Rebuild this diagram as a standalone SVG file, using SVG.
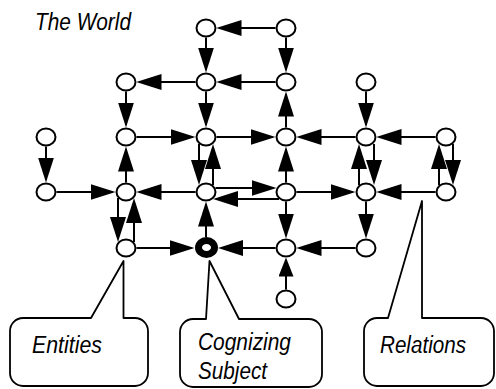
<svg xmlns="http://www.w3.org/2000/svg" width="496" height="389" viewBox="0 0 496 389">
<style>
.n{fill:#fff;stroke:#000;stroke-width:2}
.b{fill:#fff;stroke:#000;stroke-width:7}
.e line{stroke:#000;stroke-width:2;marker-end:url(#ah)}
.e line.s{marker-end:url(#ahs)}
.c{fill:#fff;stroke:#000;stroke-width:1.8;stroke-linejoin:round}
.t{font-family:"Liberation Sans",Arial,sans-serif;font-style:italic;font-size:23px;fill:#000}
</style>
<defs>
<marker id="ah" viewBox="0 0 25 16" refX="22" refY="8" markerWidth="25" markerHeight="16" markerUnits="userSpaceOnUse" orient="auto"><path d="M0,0 L25,8 L0,16 Z"/></marker>
<marker id="ahs" viewBox="0 0 19 15" refX="16" refY="7.5" markerWidth="19" markerHeight="15" markerUnits="userSpaceOnUse" orient="auto"><path d="M0,0 L19,7.5 L0,15 Z"/></marker>
</defs>
<rect width="496" height="389" fill="#fff"/>
<text class="t" x="35" y="30" font-size="24" textLength="96" lengthAdjust="spacingAndGlyphs">The World</text>
<g id="connectors" class="e">
<line x1="275.5" y1="28" x2="219.5" y2="28"/>
<line x1="206" y1="37.5" x2="206" y2="69.5"/>
<line x1="286" y1="37.5" x2="286" y2="69.5"/>
<line x1="195.5" y1="82" x2="139.5" y2="82"/>
<line x1="275.5" y1="82" x2="219.5" y2="82"/>
<line x1="126" y1="91.5" x2="126" y2="124.5"/>
<line x1="206" y1="91.5" x2="206" y2="124.5"/>
<line x1="286" y1="127.5" x2="286" y2="94.5"/>
<line x1="366" y1="91.5" x2="366" y2="124.5"/>
<line x1="46" y1="146.5" x2="46" y2="179.5"/>
<line x1="136.5" y1="137" x2="192.5" y2="137"/>
<line x1="216.5" y1="137" x2="272.5" y2="137"/>
<line x1="355.5" y1="137" x2="299.5" y2="137"/>
<line x1="435.5" y1="137" x2="379.5" y2="137"/>
<line x1="126" y1="182.5" x2="126" y2="149.5"/>
<line x1="199" y1="144" x2="199" y2="182"/>
<line x1="213" y1="185" x2="213" y2="147"/>
<line x1="286" y1="182.5" x2="286" y2="149.5"/>
<line x1="359" y1="185" x2="359" y2="147"/>
<line x1="374" y1="144" x2="374" y2="182"/>
<line x1="439" y1="185" x2="439" y2="147"/>
<line x1="453" y1="144" x2="453" y2="182"/>
<line x1="56.5" y1="192" x2="112.5" y2="192"/>
<line x1="195.5" y1="192" x2="139.5" y2="192"/>
<line x1="215.5" y1="188" x2="273.5" y2="188"/>
<line x1="279" y1="199" x2="216" y2="199"/>
<line x1="296.5" y1="192" x2="352.5" y2="192"/>
<line x1="435.5" y1="192" x2="379.5" y2="192"/>
<line x1="118" y1="198" x2="118" y2="239"/>
<line x1="134" y1="242" x2="134" y2="201"/>
<line x1="206" y1="237" x2="206" y2="204.5"/>
<line x1="286" y1="201.5" x2="286" y2="235.5"/>
<line x1="366" y1="201.5" x2="366" y2="235.5"/>
<line x1="136.5" y1="248" x2="191.5" y2="248"/>
<line x1="275.5" y1="248" x2="221" y2="248"/>
<line x1="355.5" y1="248" x2="299.5" y2="248"/>
<line class="s" x1="286" y1="289.5" x2="286" y2="260.5"/>
</g>
<g id="n-206-28"><ellipse class="n" cx="206" cy="28" rx="9.5" ry="8.5"/></g>
<g id="n-286-28"><ellipse class="n" cx="286" cy="28" rx="9.5" ry="8.5"/></g>
<g id="n-126-82"><ellipse class="n" cx="126" cy="82" rx="9.5" ry="8.5"/></g>
<g id="n-206-82"><ellipse class="n" cx="206" cy="82" rx="9.5" ry="8.5"/></g>
<g id="n-286-82"><ellipse class="n" cx="286" cy="82" rx="9.5" ry="8.5"/></g>
<g id="n-366-82"><ellipse class="n" cx="366" cy="82" rx="9.5" ry="8.5"/></g>
<g id="n-46-137"><ellipse class="n" cx="46" cy="137" rx="9.5" ry="8.5"/></g>
<g id="n-126-137"><ellipse class="n" cx="126" cy="137" rx="9.5" ry="8.5"/></g>
<g id="n-206-137"><ellipse class="n" cx="206" cy="137" rx="9.5" ry="8.5"/></g>
<g id="n-286-137"><ellipse class="n" cx="286" cy="137" rx="9.5" ry="8.5"/></g>
<g id="n-366-137"><ellipse class="n" cx="366" cy="137" rx="9.5" ry="8.5"/></g>
<g id="n-446-137"><ellipse class="n" cx="446" cy="137" rx="9.5" ry="8.5"/></g>
<g id="n-46-192"><ellipse class="n" cx="46" cy="192" rx="9.5" ry="8.5"/></g>
<g id="n-126-192"><ellipse class="n" cx="126" cy="192" rx="9.5" ry="8.5"/></g>
<g id="n-206-192"><ellipse class="n" cx="206" cy="192" rx="9.5" ry="8.5"/></g>
<g id="n-286-192"><ellipse class="n" cx="286" cy="192" rx="9.5" ry="8.5"/></g>
<g id="n-366-192"><ellipse class="n" cx="366" cy="192" rx="9.5" ry="8.5"/></g>
<g id="n-446-192"><ellipse class="n" cx="446" cy="192" rx="9.5" ry="8.5"/></g>
<g id="n-126-248"><ellipse class="n" cx="126" cy="248" rx="9.5" ry="8.5"/></g>
<g id="subject-node"><ellipse class="b" cx="206.5" cy="247.5" rx="8" ry="7"/></g>
<g id="n-286-248"><ellipse class="n" cx="286" cy="248" rx="9.5" ry="8.5"/></g>
<g id="n-366-248"><ellipse class="n" cx="366" cy="248" rx="9.5" ry="8.5"/></g>
<g id="n-286-299"><ellipse class="n" cx="286" cy="299" rx="9.5" ry="8.5"/></g>
<g id="callout-entities">
<path class="c" d="M23,318 L91,318 L123.5,261 L123.5,318 L135,318 A13,13 0 0 1 148,331 L148,373 A13,13 0 0 1 135,386 L23,386 A13,13 0 0 1 10,373 L10,331 A13,13 0 0 1 23,318 Z"/>
<text class="t" x="32" y="352.5" font-size="22.5" textLength="70" lengthAdjust="spacingAndGlyphs">Entities</text>
</g>
<g id="callout-subject">
<path class="c" d="M193,319 L206,319 L209.5,261 L239,319 L309,319 A13,13 0 0 1 322,332 L322,374 A13,13 0 0 1 309,387 L193,387 A13,13 0 0 1 180,374 L180,332 A13,13 0 0 1 193,319 Z"/>
<text class="t" x="198" y="350" textLength="93" lengthAdjust="spacingAndGlyphs">Cognizing</text>
<text class="t" x="198" y="379" textLength="69" lengthAdjust="spacingAndGlyphs">Subject</text>
</g>
<g id="callout-relations">
<path class="c" d="M377,318 L388,318 L422,201 L422,318 L481,318 A13,13 0 0 1 494,331 L494,373 A13,13 0 0 1 481,386 L377,386 A13,13 0 0 1 364,373 L364,331 A13,13 0 0 1 377,318 Z"/>
<text class="t" x="380" y="352.5" textLength="86" lengthAdjust="spacingAndGlyphs">Relations</text>
</g>
</svg>
